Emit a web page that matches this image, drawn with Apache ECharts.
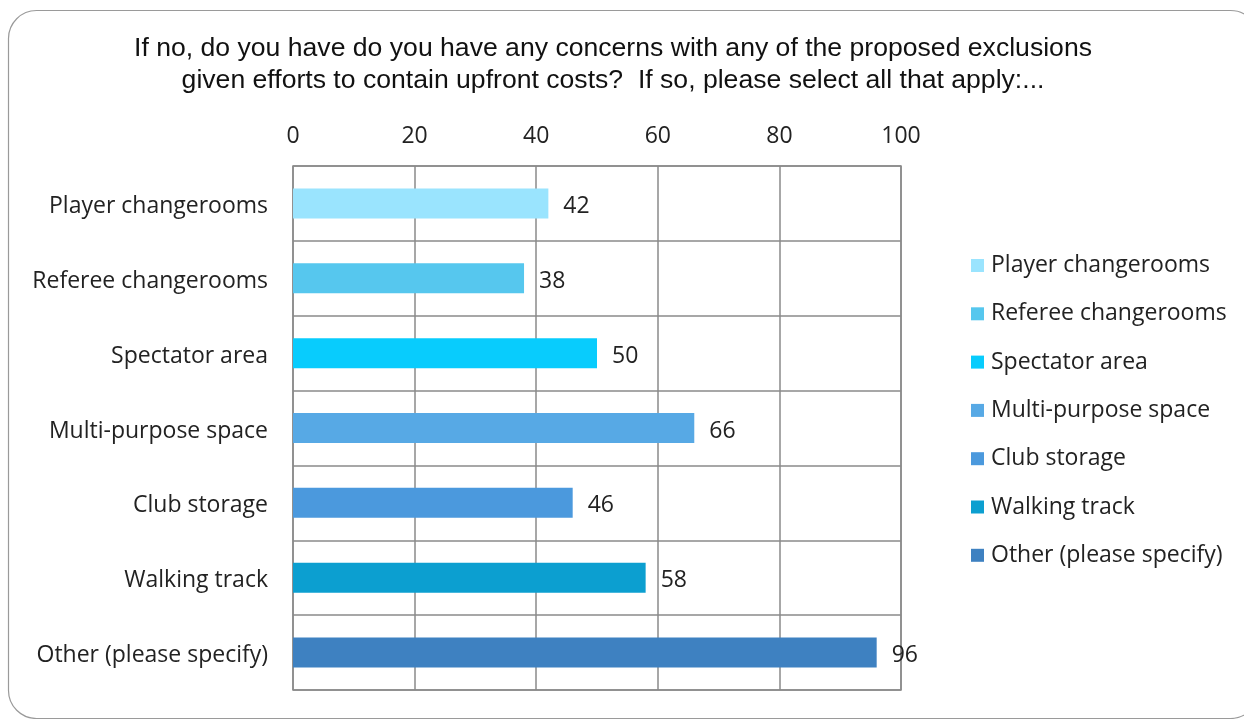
<!DOCTYPE html>
<html>
<head>
<meta charset="utf-8">
<script src="https://cdn.jsdelivr.net/npm/echarts@6/dist/echarts.min.js"></script>
<style>html,body{margin:0;padding:0;background:#fff}#c{width:1244px;height:719px}</style>
</head>
<body>
<div id="c"></div>
<script>
const titleText = "If no, do you have do you have any concerns with any of the proposed exclusions\ngiven efforts to contain upfront costs?  If so, please select all that apply:...";
const categories = ["Player changerooms","Referee changerooms","Spectator area","Multi-purpose space","Club storage","Walking track","Other (please specify)"];
const values = [42, 38, 50, 66, 46, 58, 96];
const colors = ["#9AE4FE","#56C7EE","#08CCFD","#57A9E5","#4B99DD","#0C9FD0","#3E81C1"];
const axisMin = 0, axisMax = 100, axisStep = 20;

const FONT = "Open Sans";
const FS = 23;
const series = categories.map((name, i) => ({
  name: name,
  type: 'bar',
  stack: 'one',
  barWidth: 30,
  itemStyle: { color: colors[i] },
  label: { show: true, position: 'right', distance: 15, offset: [0, 3], color: '#222', fontSize: FS, fontFamily: FONT,
           formatter: p => p.value },
  data: categories.map((c, j) => j === i ? values[i] : '-')
}));

const chart = echarts.init(document.getElementById('c'), null, {renderer: 'canvas'});
chart.setOption({
  animation: false,
  graphic: [{
    type: 'rect', silent: true, z: -1,
    shape: { x: 8.5, y: 10.5, width: 1250, height: 708, r: 28 },
    style: { fill: '#fff', stroke: '#9a9a9a', lineWidth: 1.2 }
  }],
  title: {
    text: titleText, left: 608, top: 28, textAlign: 'center',
    textStyle: { fontFamily: 'Liberation Sans', fontSize: 26.6, fontWeight: 'normal', color: '#111', lineHeight: 32 }
  },
  legend: {
    orient: 'vertical', left: 971, top: 254, padding: 0, itemGap: 25.3, itemWidth: 13, itemHeight: 13,
    icon: 'rect',
    textStyle: { fontFamily: FONT, fontSize: FS, lineHeight: 23, color: '#222', padding: [0,0,0,2] },
    data: categories
  },
  grid: { left: 293, right: 343, top: 166, bottom: 29, containLabel: false,
          show: true, borderColor: '#8a8a8a', borderWidth: 1.5 },
  xAxis: {
    type: 'value', position: 'top', min: axisMin, max: axisMax, interval: axisStep,
    axisLine: { show: false }, axisTick: { show: false },
    axisLabel: { fontFamily: FONT, fontSize: FS, color: '#222', margin: 18 },
    splitLine: { show: true, lineStyle: { color: '#8a8a8a', width: 1.5 } }
  },
  yAxis: {
    type: 'category', inverse: true, data: categories,
    axisLine: { show: false }, axisTick: { show: false },
    axisLabel: { fontFamily: FONT, fontSize: FS, color: '#222', margin: 25,
      formatter: v => '{a|' + v + '}',
      rich: { a: { fontFamily: FONT, fontSize: FS, color: '#222', padding: [6, 0, 0, 0] } } },
    splitLine: { show: true, lineStyle: { color: '#8a8a8a', width: 1.5 } }
  },
  series: series
});
</script>
</body>
</html>
